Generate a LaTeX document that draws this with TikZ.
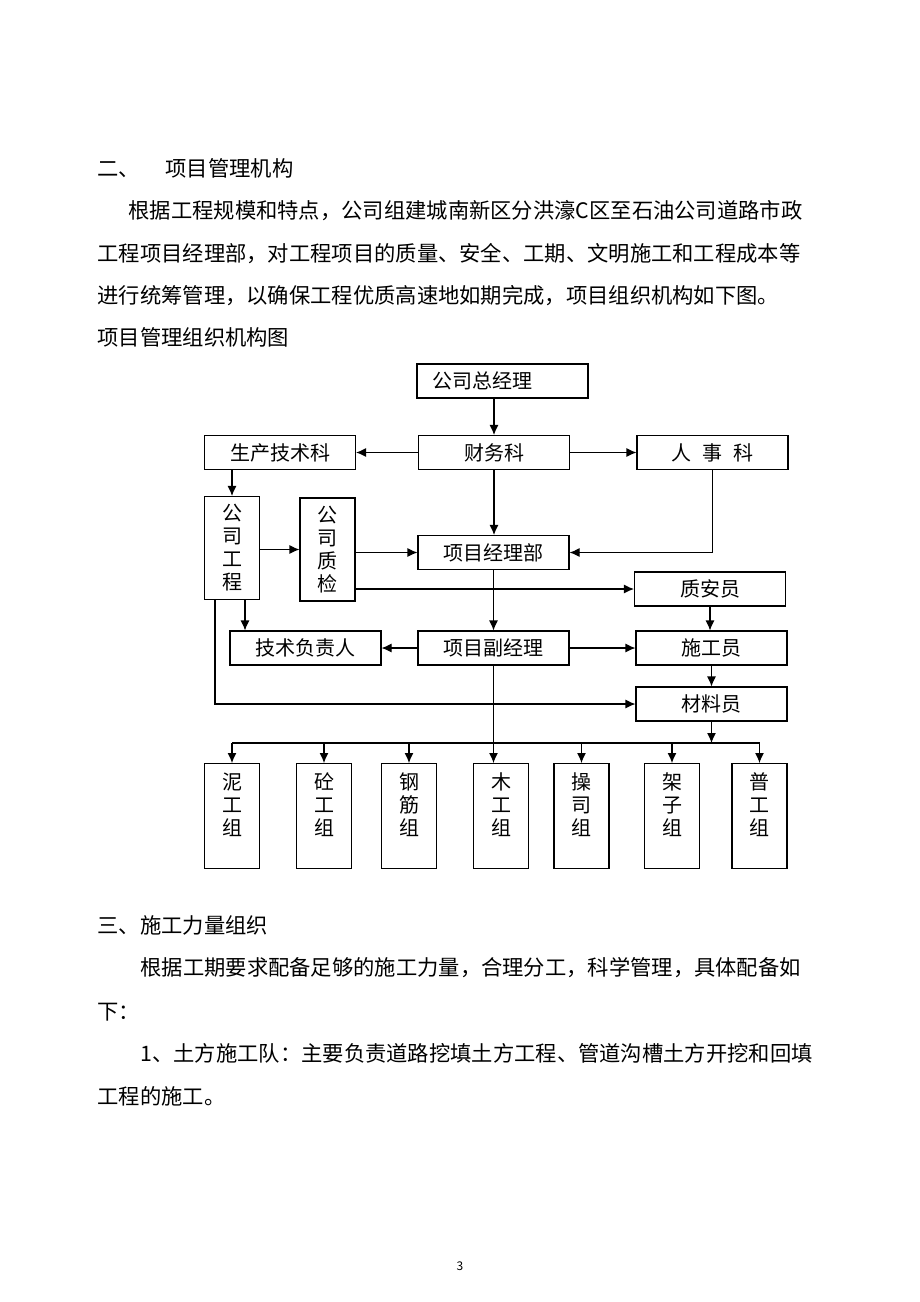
\documentclass[tikz,border=0pt]{standalone}
\usepackage{fontspec}
\setmainfont{Noto Sans CJK SC}
\usetikzlibrary{arrows.meta}
\newcommand{\bodyfont}{\fontsize{21.3}{24}\selectfont}
\newcommand{\chartfont}{\fontsize{20}{23}\selectfont}
\tikzset{
  box/.style={draw, line width=1.1pt, inner sep=0pt, minimum width=151pt, minimum height=34pt, font=\chartfont},
  vbox/.style={box, minimum width=55pt, minimum height=103pt, align=center},
  grp/.style={box, minimum width=55pt, minimum height=105pt, align=center, anchor=north},
  txt/.style={anchor=west, inner sep=0pt, font=\bodyfont},
}
\begin{document}
\begin{tikzpicture}[x=1pt, y=-1pt, >={Latex[length=10pt,width=9pt]}, line width=1.1pt]
\fill[white] (0,0) rectangle (920,1302);
\useasboundingbox (0,0) rectangle (920,1302);
% text above the chart
\node[txt] (t1) at (97,168) {二、\hspace{1.2em}项目管理机构};
\node[txt] (p1a) at (128,211) {根据工程规模和特点，公司组建城南新区分洪濠C区至石油公司道路市政};
\node[txt] (p1b) at (97,254) {工程项目经理部，对工程项目的质量、安全、工期、文明施工和工程成本等};
\node[txt] (p1c) at (97,296) {进行统筹管理，以确保工程优质高速地如期完成，项目组织机构如下图。};
\node[txt] (cap) at (97,337) {项目管理组织机构图};
% chart boxes
\node[box, minimum width=171pt, text width=141pt, inner xsep=15pt, align=left] (zjl) at (502.5,381) {公司总经理};
\node[box] (cwk) at (494,452.5) {财务科};
\node[box] (sckj) at (280,452.5) {生产技术科};
\node[box] (rsk) at (712.5,452.5) {人\hspace{0.55em}事\hspace{0.55em}科};
\node[vbox] (gsgc) at (232,548) {公\\司\\工\\程};
\node[vbox] (gszj) at (327.5,549.5) {公\\司\\质\\检};
\node[box] (xmjlb) at (493.5,552.5) {项目经理部};
\node[box] (zay) at (710,589) {质安员};
\node[box] (jsfzr) at (305.5,648) {技术负责人};
\node[box] (xmfjl) at (493.5,648) {项目副经理};
\node[box] (sgy) at (711.5,648) {施工员};
\node[box] (cly) at (711.5,704) {材料员};
\foreach \n/\x/\a/\b in {g1/232/泥/工, g2/324/砼/工, g3/409/钢/筋, g4/501/木/工, g5/581.5/操/司, g6/672/架/子, g7/759.5/普/工}
  \node[grp] (\n) at (\x,763) {\a\\\b\\组\\\mbox{}};
% connectors
\draw[->] (zjl.south -| cwk.north) -- (cwk.north);
\draw[->] (cwk) -- (sckj);
\draw[->] (cwk) -- (rsk);
\draw[->] (cwk.south) -- (cwk.south |- xmjlb.north);
\draw[->] (rsk.south) |- (xmjlb.east);
\draw[->] (sckj.south -| gsgc.north) -- (gsgc.north);
\draw[->] (gsgc.east |- gszj) -- (gszj.west);
\draw[->] (gszj.east |- xmjlb) -- (xmjlb.west);
\draw[->] (gszj.east |- zay) -- (zay.west);
\draw[->] (xmjlb) -- (xmfjl);
\draw[->] ([xshift=13pt]gsgc.south) -- ([xshift=13pt]gsgc.south |- jsfzr.north);
\draw[->] ([xshift=-17pt]gsgc.south) |- (cly.west);
\draw[->] (xmfjl) -- (jsfzr);
\draw[->] (xmfjl) -- (sgy);
\draw[->] (zay.south) -- (zay.south |- sgy.north);
\draw[->] (sgy) -- (cly);
% bus to the groups
\coordinate (busL) at (232,743);
\coordinate (busR) at (759.5,743);
\draw (busL) -- (busR);
\draw[->] (cly.south) -- (cly.south |- busL);
\draw[->] (xmfjl.south) -- (xmfjl.south |- g4.north);
\foreach \g in {g1,g2,g3,g5,g6,g7}
  \draw[->] (\g.north |- busL) -- (\g.north);
% text below the chart
\node[txt] (t2) at (97,925) {三、施工力量组织};
\node[txt] (p2a) at (140,968) {根据工期要求配备足够的施工力量，合理分工，科学管理，具体配备如};
\node[txt] (p2b) at (97,1012) {下：};
\node[txt] (p3a) at (140,1053) {1、土方施工队：主要负责道路挖填土方工程、管道沟槽土方开挖和回填};
\node[txt] (p3b) at (97,1096) {工程的施工。};
\node[inner sep=0pt, font=\fontsize{12}{12}\selectfont] (pg) at (460,1266) {3};
\end{tikzpicture}
\end{document}
